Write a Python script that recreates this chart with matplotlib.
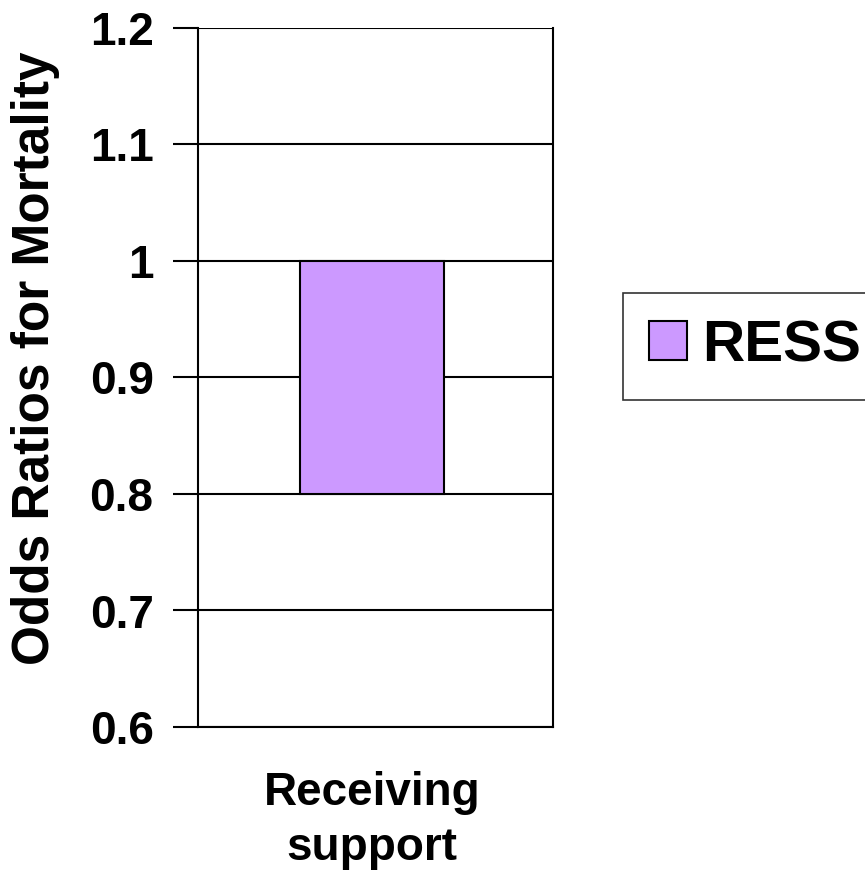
import matplotlib.pyplot as plt

plt.rcParams['font.family'] = ['Liberation Sans', 'DejaVu Sans']
plt.rcParams['font.weight'] = 'bold'

categories = ["Receiving\nsupport"]
series_name = "RESS"
or_low = [0.8]
or_high = [1.0]
y_ticks = [0.6, 0.7, 0.8, 0.9, 1.0, 1.1, 1.2]
y_tick_labels = ["0.6", "0.7", "0.8", "0.9", "1", "1.1", "1.2"]

fig = plt.figure(figsize=(8.65, 8.72), dpi=100)
ax = fig.add_axes([198 / 865, 1 - 727 / 872, 355 / 865, 699 / 872])

heights = [h - l for l, h in zip(or_low, or_high)]
ax.bar([0], heights, bottom=or_low, width=0.405, color="#CC99FF",
       edgecolor="black", linewidth=1.5, label=series_name, zorder=3)

ax.set_xlim(-0.49, 0.51)
ax.set_ylim(0.6, 1.2)
ax.set_yticks(y_ticks)
ax.set_yticklabels(y_tick_labels, fontsize=33, fontweight="bold")
ax.set_xticks([0])
ax.set_xticklabels(categories, fontsize=33, fontweight="bold", linespacing=1.3)
ax.tick_params(axis="x", length=0, pad=32)
ax.tick_params(axis="y", length=18, width=1.5, pad=14, direction="out")
ax.grid(axis="y", color="black", linewidth=1.5, zorder=1)
for s in ax.spines.values():
    s.set_linewidth(1.5)
ax.spines["top"].set_visible(False)

# y title sits a little above the axes centre
fig.text(36 / 865, 1 - 358 / 872, "Odds Ratios for Mortality", rotation=90,
         ha="center", va="center", fontsize=37, fontweight="bold")

leg = fig.legend(loc="upper left", bbox_to_anchor=(623 / 865, 1 - 293 / 872),
                 fontsize=42, frameon=True, fancybox=False, edgecolor="black",
                 handlelength=0.65, handleheight=0.65, handletextpad=0.25,
                 borderpad=0.45, borderaxespad=0)
leg.get_frame().set_linewidth(1.2)
for t in leg.get_texts():
    t.set_fontweight("bold")

fig.savefig("out.png", dpi=100)
